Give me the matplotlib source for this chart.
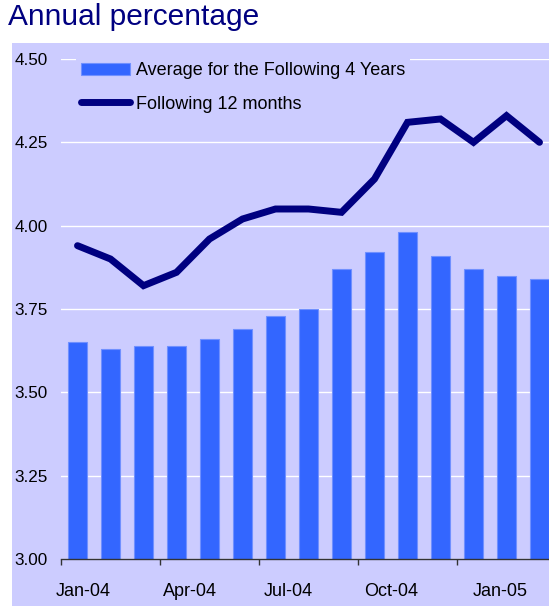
import matplotlib
matplotlib.use("Agg")
from matplotlib import pyplot as plt
from matplotlib.patches import Rectangle
import numpy as np

plt.rcParams['font.family'] = ['Liberation Sans', 'DejaVu Sans']

months = ["Jan-04", "Feb-04", "Mar-04", "Apr-04", "May-04", "Jun-04", "Jul-04",
          "Aug-04", "Sep-04", "Oct-04", "Nov-04", "Dec-04", "Jan-05", "Feb-05", "Mar-05"]
avg_4_years = [3.65, 3.63, 3.64, 3.64, 3.66, 3.69, 3.73, 3.75,
               3.87, 3.92, 3.98, 3.91, 3.87, 3.85, 3.84]
next_12_months = [3.94, 3.90, 3.82, 3.86, 3.96, 4.02, 4.05, 4.05,
                  4.04, 4.14, 4.31, 4.32, 4.25, 4.33, 4.25]
shown_labels = ["Jan-04", "Apr-04", "Jul-04", "Oct-04", "Jan-05"]
label_shift = [0.17, 0.4, 0.4, 0.5, 0.8]  # excel puts them a bit right of centre

bg = '#CCCCFF'
W, H = 549, 606
fig = plt.figure(figsize=(W / 100, H / 100), dpi=100)
fig.patch.set_facecolor('white')
fig.add_artist(Rectangle((12 / W, 0), 1, 1 - 43 / H, transform=fig.transFigure,
                         facecolor=bg, edgecolor='none', zorder=0))

fig.text(8 / W, 1 - 25 / H, "Annual percentage", fontsize=21.5, color='#000080',
         va='baseline', ha='left')

ax = fig.add_axes([61 / W, 1 - 559 / H, 495 / W, 500 / H])
ax.set_facecolor(bg)

x = np.arange(len(months))
bars = ax.bar(x, avg_4_years, width=0.6, bottom=0, color='#3366FF', edgecolor='#7090FF',
              linewidth=0.8, label="Average for the Following 4 Years", zorder=2)
line, = ax.plot(x, next_12_months, color='#000080', linewidth=5, solid_capstyle='round',
                solid_joinstyle='miter', label="Following 12 months", zorder=3)

ax.set_ylim(3.0, 4.5)
ax.set_xlim(-0.5, len(months) - 0.5)
ax.set_yticks(np.arange(3.0, 4.51, 0.25))
ax.set_yticklabels(["%.2f" % v for v in np.arange(3.0, 4.51, 0.25)])
ax.grid(axis='y', color='white', linewidth=1, zorder=1)
ax.set_axisbelow(True)

# tick marks on category boundaries, labels separately
ax.set_xticks(np.arange(-0.5, len(months), 3))
ax.set_xticklabels([])
lab_pos = [months.index(m) + s for m, s in zip(shown_labels, label_shift)]
ax.set_xticks(lab_pos, minor=True)
ax.set_xticklabels(shown_labels, minor=True)
ax.tick_params(axis='x', which='major', length=4, width=1, color='#333333', direction='out')
ax.tick_params(axis='x', which='minor', length=0, pad=17, labelsize=13)
ax.tick_params(axis='y', length=0, pad=9.5, labelsize=12.3)

for s in ['top', 'right', 'left']:
    ax.spines[s].set_visible(False)
ax.spines['bottom'].set_color('#333333')
ax.spines['bottom'].set_linewidth(1)

leg = ax.legend([bars, line], [bars.get_label(), line.get_label()],
                loc='upper left', bbox_to_anchor=(76 / W, 1 - 57 / H),
                bbox_transform=fig.transFigure, fontsize=13, frameon=True,
                facecolor=bg, edgecolor='none', framealpha=1, fancybox=False,
                handlelength=2.7, handleheight=0.7, handletextpad=0.3,
                labelspacing=0.9, borderpad=0.3, borderaxespad=0)
leg.set_zorder(5)

fig.savefig("out.png", dpi=100)
